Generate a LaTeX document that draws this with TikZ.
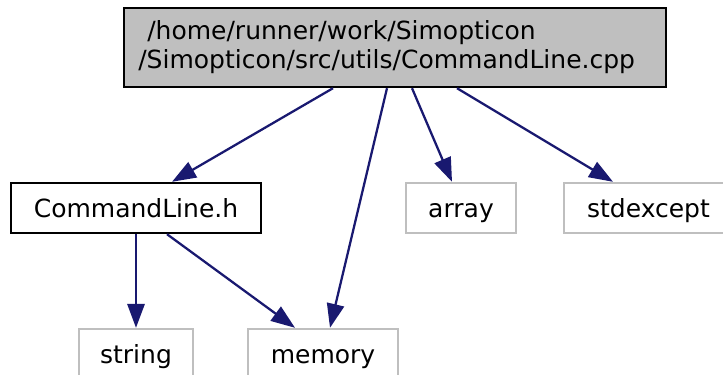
\documentclass[tikz,border=0pt]{standalone}
\usepackage{fontspec}
\setmainfont{DejaVu Sans}
\usetikzlibrary{arrows.meta}
\definecolor{edgeblue}{HTML}{191970}
\definecolor{grayline}{HTML}{BFBFBF}
\definecolor{grayfill}{HTML}{BFBFBF}
\begin{document}
\begin{tikzpicture}[x=0.75pt,y=-0.75pt,
  every node/.style={font=\fontsize{18.75pt}{22pt}\selectfont},
  filebox/.style={draw=black, line width=1.8pt, fill=white, inner sep=0pt,
    text height=13.5pt, text depth=0pt},
  sysbox/.style={draw=grayline, line width=1.8pt, fill=white, inner sep=0pt,
    text height=13.5pt, text depth=0pt},
  topbox/.style={draw=black, line width=1.8pt, fill=grayfill, inner sep=0pt},
  dep/.style={draw=edgeblue, line width=1.7pt,
    -{Triangle[length=18pt,width=13pt]}}]
\useasboundingbox (0,0) rectangle (723,374);
% top node
\node[topbox, minimum width=406.5pt, minimum height=59.25pt] (top) at (395,47.5) {};
\node[anchor=base west, align=left, inner sep=0pt,
  font=\fontsize{18.75pt}{22pt}\selectfont] (toptext) at (138,69)
  {\hspace*{6.75pt}/home/runner/work/Simopticon\\[0.3pt]/Simopticon/src/utils/CommandLine.cpp};
% rank 1
\node[filebox, minimum width=187.5pt, minimum height=37.5pt] (clh) at (136,208) {CommandLine.h};
\node[sysbox, minimum width=82.5pt, minimum height=37.5pt] (array) at (461,208) {array};
\node[sysbox, minimum width=126.75pt, minimum height=37.5pt] (stdexcept) at (648.5,208) {stdexcept};
% rank 2
\node[sysbox, minimum width=85.5pt, minimum height=37.5pt] (string) at (136,354) {string};
\node[sysbox, minimum width=112.5pt, minimum height=37.5pt] (memory) at (323,354) {memory};
% edges
\draw[dep] ([xshift=-46.5pt]top.south) -- ([xshift=27pt]clh.north);
\draw[dep] ([xshift=-6pt]top.south) -- ([xshift=5.25pt]memory.north);
\draw[dep] ([xshift=12.75pt]top.south) -- ([xshift=-6.75pt]array.north);
\draw[dep] ([xshift=46.5pt]top.south) -- ([xshift=-26.625pt]stdexcept.north);
\draw[dep] (clh.south) -- (string.north);
\draw[dep] ([xshift=23.25pt]clh.south) -- ([xshift=-21pt]memory.north);
\end{tikzpicture}
\end{document}
